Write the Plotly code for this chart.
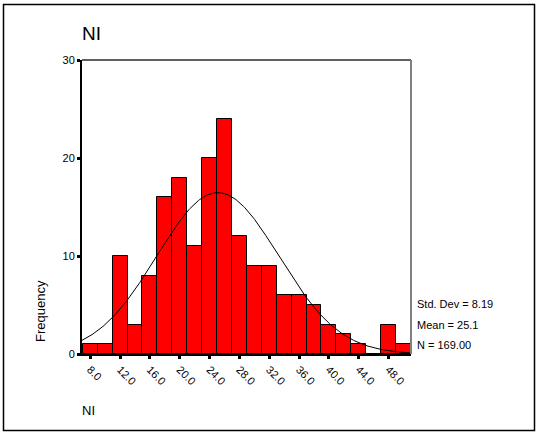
import numpy as np
import plotly.graph_objects as go

# Data
bin_centers = [8, 10, 12, 14, 16, 18, 20, 22, 24, 26, 28, 30, 32, 34, 36, 38, 40, 42, 44, 46, 48, 50]
frequencies = [1, 1, 10, 3, 8, 16, 18, 11, 20, 24, 12, 9, 9, 6, 6, 5, 3, 2, 1, 0, 3, 1]
bin_width = 2
x_tick_vals = [8, 12, 16, 20, 24, 28, 32, 36, 40, 44, 48]
x_tick_text = ["8.0", "12.0", "16.0", "20.0", "24.0", "28.0", "32.0", "36.0", "40.0", "44.0", "48.0"]
y_tick_vals = [0, 10, 20, 30]
std_dev = 8.19
mean = 25.1
n_total = 169.00

W, H = 536, 433
L, R, T, B = 82, 411, 60, 354
x_range = [6.9, 51.0]

FONT = "Arial, Liberation Sans, sans-serif"

# fitted normal curve from stated statistics
curve_x = np.linspace(x_range[0], x_range[1], 300)
curve_y = n_total * bin_width / (std_dev * np.sqrt(2 * np.pi)) * np.exp(-0.5 * ((curve_x - mean) / std_dev) ** 2)

fig = go.Figure()
fig.add_trace(go.Bar(
    x=bin_centers, y=frequencies, width=bin_width,
    marker=dict(color="#FF0000", line=dict(color="black", width=1)),
    showlegend=False, hoverinfo="x+y",
))
fig.add_trace(go.Scatter(
    x=curve_x, y=curve_y, mode="lines",
    line=dict(color="black", width=1), showlegend=False, hoverinfo="skip",
))

def px(xp):
    return (xp - L) / (R - L)

def py(yp):
    return (B - yp) / (B - T)

shapes = [
    # outer frame
    dict(type="rect", xref="paper", yref="paper", x0=px(3.5), x1=px(534.5), y0=py(430.5), y1=py(4.5),
         line=dict(color="black", width=1.5), layer="below"),
    # top & right plot border (grey)
    dict(type="line", xref="paper", yref="paper", x0=0, x1=1, y0=1, y1=1, line=dict(color="#606060", width=2)),
    dict(type="line", xref="paper", yref="paper", x0=1, x1=1, y0=0, y1=1, line=dict(color="#808080", width=2)),
]

annotations = [
    dict(text="NI", xref="paper", yref="paper", x=px(91), y=py(33), showarrow=False,
         font=dict(size=19, color="black", family=FONT), xanchor="center", yanchor="middle"),
    dict(text="Frequency", xref="paper", yref="paper", x=px(40), y=py(311), showarrow=False, textangle=-90,
         font=dict(size=13, color="black", family=FONT), xanchor="center", yanchor="middle"),
    dict(text="NI", xref="paper", yref="paper", x=px(88), y=py(411), showarrow=False,
         font=dict(size=13, color="black", family=FONT), xanchor="center", yanchor="middle"),
    dict(text=f"Std. Dev = {std_dev:.2f}", xref="paper", yref="paper", x=px(415), y=py(304), showarrow=False,
         font=dict(size=11, color="black", family=FONT), xanchor="left", yanchor="middle"),
    dict(text=f"Mean = {mean:.1f}", xref="paper", yref="paper", x=px(415), y=py(325), showarrow=False,
         font=dict(size=11, color="black", family=FONT), xanchor="left", yanchor="middle"),
    dict(text=f"N = {n_total:.2f}", xref="paper", yref="paper", x=px(415), y=py(345), showarrow=False,
         font=dict(size=11, color="black", family=FONT), xanchor="left", yanchor="middle"),
]

fig.update_layout(
    width=W, height=H,
    margin=dict(l=L, r=W - R, t=T, b=H - B, pad=0),
    paper_bgcolor="white", plot_bgcolor="white",
    bargap=0,
    font=dict(family=FONT, size=11, color="black"),
    shapes=shapes, annotations=annotations,
    xaxis=dict(
        range=x_range, tickvals=x_tick_vals, ticktext=x_tick_text, tickangle=45,
        showgrid=False, zeroline=False, showline=True, linecolor="black", linewidth=2,
        ticks="outside", ticklen=3, tickwidth=3, tickcolor="black",
        tickfont=dict(size=11, color="black", family=FONT),
    ),
    yaxis=dict(
        range=[0, 30], tickvals=y_tick_vals, showgrid=False, zeroline=False,
        showline=True, linecolor="black", linewidth=2,
        ticks="outside", ticklen=3, tickwidth=3, tickcolor="black",
        tickfont=dict(size=11, color="black", family=FONT),
    ),
)

fig.write_html("out.html", config={"displayModeBar": False},
               post_script="document.body.style.margin='0';document.body.style.overflow='hidden';")
